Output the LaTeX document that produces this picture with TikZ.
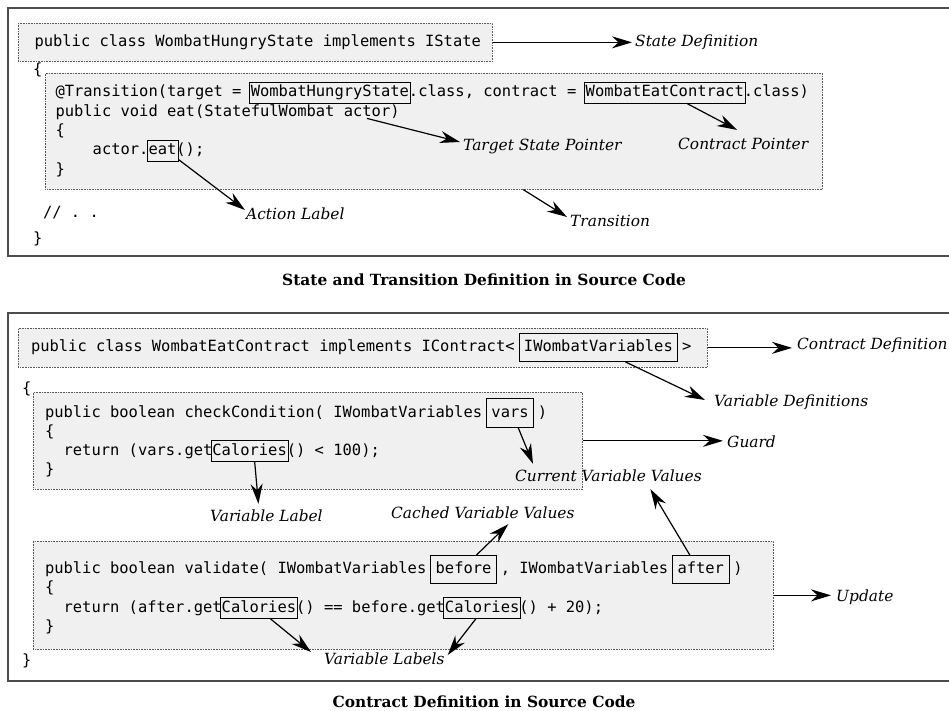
\documentclass[tikz,border=0pt]{standalone}
\usepackage{fontspec}
\setmainfont{DejaVu Serif}
\setmonofont{DejaVu Sans Mono}
\usetikzlibrary{arrows.meta, calc, positioning}

\newcommand\codefont{\fontsize{15.45}{19}\ttfamily}
\newcommand\lblfont{\fontsize{15.4}{18}\selectfont\itshape}
\newcommand\capfont{\fontsize{15.4}{18}\selectfont\bfseries}
\newcommand\cw{9.3017pt}

\tikzset{
  codeln/.style={inner sep=0pt, anchor=text, font=\codefont},
  hl/.style={draw, line width=.8pt, inner xsep=1.5pt, inner ysep=2.5pt,
    text height=11.7pt, text depth=3.5pt, anchor=text, font=\codefont},
  hlpad/.style={hl, inner xsep=5pt, inner ysep=6.5pt},
  codebox/.style={draw=black!65, dash pattern=on .8pt off .8pt, line width=.7pt,
    fill=black!6, anchor=north west, inner sep=0pt},
  lbl/.style={inner sep=0pt, anchor=west, font=\lblfont},
  arr/.style={-{Stealth[length=20pt,width=12pt]}, line width=1.2pt},
  frame/.style={draw=black!70, line width=1.6pt}
}

\begin{document}
\begin{tikzpicture}[x=1pt, y=-1pt]
\useasboundingbox (0,0) rectangle (949,711);

\draw[frame] (949,8) -- (8,8) -- (8,256) -- (949,256);
\draw[frame] (949,313) -- (8,313) -- (8,681) -- (949,681);

% state class
\node[codebox, minimum width=474pt, minimum height=38pt] (stateBox) at (18,23) {};
\node[codeln] (s1) at (34.5,47) {public class WombatHungryState implements IState};
\node[codeln] (s2) at (33,75) {\{};
\node[codebox, minimum width=777pt, minimum height=116pt] (eatBox) at (45,73) {};
\node[codeln] (m1) at (55.5,97) {@Transition(target = \hphantom{WombatHungryState}.class, contract = \hphantom{WombatEatContract}.class)};
\node[hl] (whs) at ([xshift=21*\cw]m1.text) {WombatHungryState};
\node[hl] (wec) at ([xshift=57*\cw]m1.text) {WombatEatContract};
\node[codeln] (m2) at (55.5,116.3) {public void eat(StatefulWombat actor)};
\node[codeln] (m3) at (55.5,135.6) {\{};
\node[codeln] (m4) at ([xshift=4*\cw]55.5,155) {actor.\hphantom{eat}();};
\node[codeln] (m5) at (55.5,174.3) {\}};
\node[hl] (eat) at ([xshift=6*\cw]m4.text) {eat};
\node[codeln] (s3) at (43,218) {// . .};
\node[codeln] (s4) at (33,243) {\}};

\node[lbl] (sd) at (635,42) {State Definition};
\node[lbl] (tsp) at (463,146) {Target State Pointer};
\node[lbl] (cp) at (678,144) {Contract Pointer};
\node[lbl] (al) at (246,214) {Action Label};
\node[lbl] (tr) at (570,221) {Transition};

\draw[arr] (stateBox.east) -- ([xshift=-3pt]sd.west |- stateBox.east);
\draw[arr] ([xshift=37pt,yshift=-15pt]whs.south) -- ([xshift=-3pt,yshift=4pt]tsp.west);
\draw[arr] ([xshift=22pt]wec.south) -- ([xshift=-6pt,yshift=8pt]cp.north);
\draw[arr] ([yshift=2pt]eat.south east) -- ([xshift=-1pt,yshift=4pt]al.west);
\draw[arr] ([xshift=89.5pt]eatBox.south) -- ([xshift=-3pt,yshift=4pt]tr.west);

\node[font=\capfont, anchor=base] (cap1) at (484,285) {State and Transition Definition in Source Code};

% contract class
\node[codebox, minimum width=689pt, minimum height=39pt] (contractBox) at (18,328) {};
\node[codeln] (k1) at (31,351.5) {public class WombatEatContract implements IContract< \hphantom{IWombatVariables} >};
\node[hlpad] (iwv) at ([xshift=53*\cw]k1.text) {IWombatVariables};
\node[codeln] (k2) at (22,393) {\{};
\node[codebox, minimum width=549pt, minimum height=97pt] (checkBox) at (33,392) {};
\node[codeln] (q1) at (45,417) {public boolean checkCondition( IWombatVariables \hphantom{vars} )};
\node[hlpad] (vars) at ([xshift=48*\cw]q1.text) {vars};
\node[codeln] (q2) at (45,436) {\{};
\node[codeln] (q3) at ([xshift=2*\cw]45,455) {return (vars.get\hphantom{Calories}() < 100);};
\node[hl] (cal0) at ([xshift=16*\cw]q3.text) {Calories};
\node[codeln] (q4) at (45,474) {\}};
\node[codebox, minimum width=740pt, minimum height=108pt] (validateBox) at (33,541) {};
\node[codeln] (v1) at (45,573.5) {public boolean validate( IWombatVariables \hphantom{before} , IWombatVariables \hphantom{after} )};
\node[hlpad] (before) at ([xshift=42*\cw]v1.text) {before};
\node[hlpad] (after) at ([xshift=68*\cw]v1.text) {after};
\node[codeln] (v2) at (45,592.75) {\{};
\node[codeln] (v3) at ([xshift=2*\cw]45,612) {return (after.get\hphantom{Calories}() == before.get\hphantom{Calories}() + 20);};
\node[hl] (cal1) at ([xshift=17*\cw]v3.text) {Calories};
\node[hl] (cal2) at ([xshift=41*\cw]v3.text) {Calories};
\node[codeln] (v4) at (45,631.25) {\}};
\node[codeln] (k3) at (22,665) {\}};

\node[lbl] (cd) at (797,345) {Contract Definition};
\node[lbl] (vd) at (714,402) {Variable Definitions};
\node[lbl] (gd) at (727,442) {Guard};
\node[lbl] (cvv) at (515,476) {Current Variable Values};
\node[lbl] (vl) at (210,516) {Variable Label};
\node[lbl] (cch) at (391,513) {Cached Variable Values};
\node[lbl] (up) at (836,597) {Update};
\node[lbl] (vls) at (324,659) {Variable Labels};

\draw[arr] (contractBox.east) -- ([xshift=-5pt]cd.west |- contractBox.east);
\draw[arr] ([xshift=27pt]iwv.south) -- ([xshift=-9pt,yshift=2pt]vd.west);
\draw[arr] ([xshift=8pt]vars.south) -- ([xshift=18pt,yshift=6pt]cvv.north west);
\draw[arr] (checkBox.east) -- ([xshift=-4pt]gd.west |- checkBox.east);
\draw[arr] ([xshift=5pt]cal0.south) -- ([xshift=-8pt,yshift=6pt]vl.north);
\draw[arr] ([xshift=13pt]before.north) -- ([xshift=25.5pt,yshift=-5pt]cch.south);
\draw[arr] ([xshift=-11pt]after.north) -- ([xshift=42pt,yshift=-7pt]cvv.south);
\draw[arr] (validateBox.east) -- ([xshift=-5pt]up.west |- validateBox.east);
\draw[arr] ([xshift=11pt]cal1.south) -- ([xshift=-13pt,yshift=7pt]vls.west);
\draw[arr] ([xshift=-6pt]cal2.south) -- ([xshift=3pt,yshift=4pt]vls.east);

\node[font=\capfont, anchor=base] (cap2) at (484,707) {Contract Definition in Source Code};
\end{tikzpicture}
\end{document}
